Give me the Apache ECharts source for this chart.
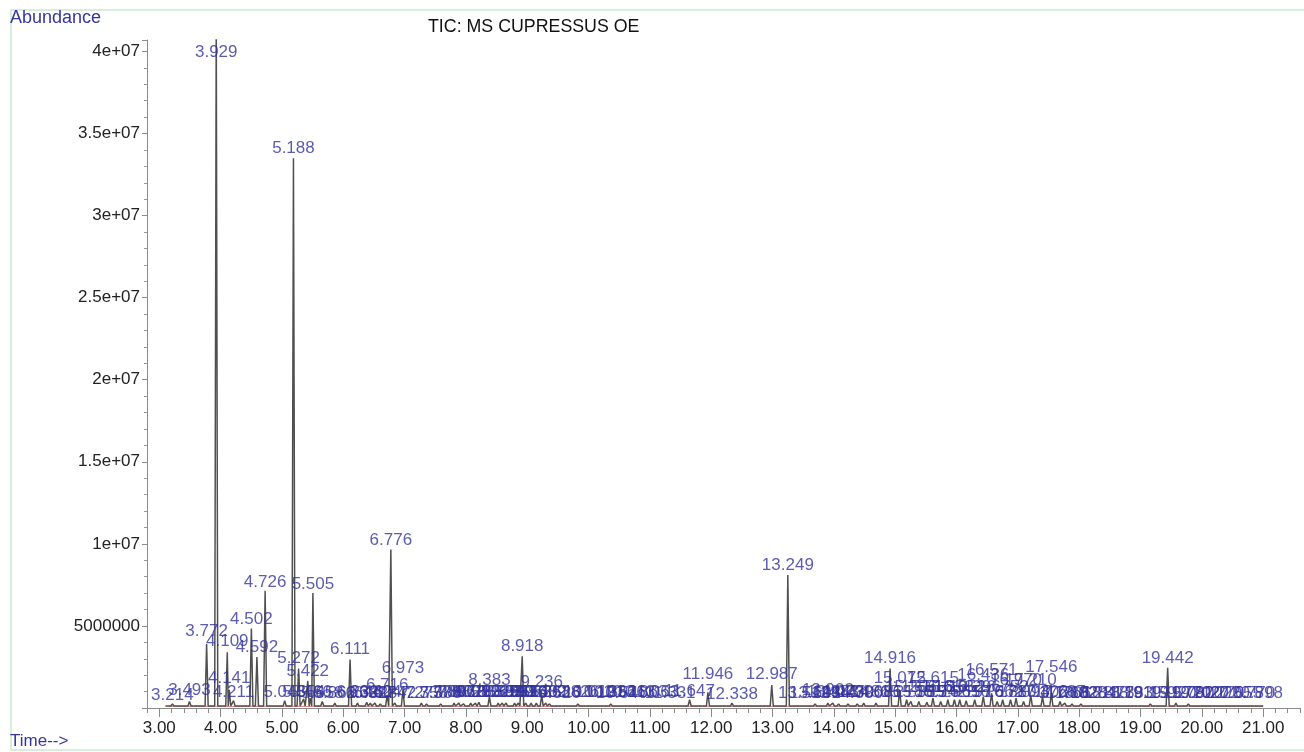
<!DOCTYPE html>
<html><head><meta charset="utf-8">
<script src="https://cdn.jsdelivr.net/npm/echarts@6/dist/echarts.min.js"></script>
<style>html,body{margin:0;padding:0;background:#fff}#c{width:1304px;height:752px}</style>
</head><body><div id="c"></div><script>
// Retention time (min) of each labelled peak
const peakTimes = [
 3.214,3.493,3.772,3.929,4.109,4.141,4.211,4.502,4.592,4.726,
 5.045,5.188,5.272,5.354,5.422,5.466,5.505,5.658,5.862,6.111,
 6.232,6.382,6.442,6.517,6.604,6.716,6.776,6.842,6.973,7.273,
 7.358,7.588,7.807,7.885,7.962,8.078,8.155,8.212,8.383,8.526,
 8.593,8.655,8.793,8.855,8.918,8.976,9.062,9.148,9.236,9.302,
 9.363,9.526,9.826,10.012,10.193,10.362,10.540,10.663,10.863,11.063,
 11.331,11.647,11.946,12.338,12.987,13.249,13.512,13.693,13.902,13.983,
 14.077,14.230,14.380,14.486,14.686,14.916,15.072,15.186,15.256,15.385,
 15.516,15.615,15.742,15.858,15.965,16.052,16.157,16.296,16.436,16.571,
 16.662,16.752,16.880,16.970,17.093,17.210,17.402,17.546,17.687,17.766,
 17.882,18.028,18.281,18.478,18.783,18.919,19.159,19.442,19.577,19.780,
 19.920,20.027,20.270,20.555,20.770,20.898
];
// Apex abundance of each peak (millions of counts)
const peakHeightsM = [
 0.25,0.40,3.9,42,3.4,1.1,0.45,4.85,3.1,7.15,
 0.45,33.5,2.4,0.55,1.65,0.6,7.0,0.4,0.3,2.95,
 0.3,0.35,0.3,0.3,0.25,0.8,9.65,0.3,1.1,0.3,
 0.25,0.25,0.3,0.3,0.25,0.3,0.3,0.35,0.7,0.3,
 0.3,0.3,0.3,0.3,3.15,0.3,0.3,0.3,0.75,0.3,
 0.25,0.2,0.25,0.2,0.2,0.25,0.2,0.2,0.2,0.2,
 0.2,0.5,0.95,0.3,1.4,8.1,0.2,0.25,0.3,0.3,
 0.25,0.25,0.25,0.3,0.3,2.4,1.1,0.5,0.4,0.4,
 0.35,0.6,0.4,0.5,0.5,0.5,0.45,0.5,0.7,0.9,
 0.4,0.5,0.5,0.6,0.4,0.8,0.7,0.9,0.4,0.3,
 0.25,0.25,0.2,0.2,0.2,0.2,0.25,2.45,0.3,0.25,
 0.2,0.2,0.2,0.2,0.2,0.2
];
// Abundance level where each peak's time label sits (millions)
const labelLevelsM = [
 0.2,0.5,4.07,39.4,3.46,1.2,0.35,4.85,3.09,7.1,
 0.35,33.5,2.42,0.35,1.63,0.35,6.98,0.3,0.3,2.97,
 0.35,0.3,0.35,0.3,0.35,0.8,9.66,0.3,1.81,0.3,
 0.3,0.3,0.35,0.4,0.35,0.4,0.35,0.35,1.1,0.35,
 0.4,0.35,0.35,0.4,3.15,0.35,0.4,0.35,1.0,0.35,
 0.35,0.3,0.35,0.35,0.35,0.35,0.3,0.35,0.35,0.35,
 0.3,0.43,1.45,0.23,1.45,8.1,0.3,0.3,0.5,0.35,
 0.35,0.35,0.3,0.35,0.35,2.42,1.2,0.35,0.7,0.35,
 0.7,1.2,0.35,0.7,0.35,0.7,0.35,0.7,1.4,1.71,
 0.35,0.7,0.35,1.1,0.35,1.1,0.35,1.92,0.35,0.3,
 0.3,0.3,0.3,0.3,0.3,0.3,0.3,2.46,0.3,0.3,
 0.3,0.3,0.3,0.3,0.3,0.3
];
const baselineTimes = [3.15, 21.0];
const baselineLevelsM = [0.1, 0.1];
const traceBaseM = 0.12;
const xTickValues = [3,4,5,6,7,8,9,10,11,12,13,14,15,16,17,18,19,20,21];
const xTickLabels = ['3.00','4.00','5.00','6.00','7.00','8.00','9.00','10.00','11.00','12.00','13.00','14.00','15.00','16.00','17.00','18.00','19.00','20.00','21.00'];
const yTickValues = [5e6,1e7,1.5e7,2e7,2.5e7,3e7,3.5e7,4e7];
const yTickLabels = ['5000000','1e+07','1.5e+07','2e+07','2.5e+07','3e+07','3.5e+07','4e+07'];

const W = 1304, H = 752;
const gL = 147, gR = 4, gT = 40, gB = 44;
const xMin = 2.8, xMax = 21.6, yMax = 4.07e7;
const ppm = (W - gL - gR) / (xMax - xMin);
const g1L = gL + (3 - xMin) * ppm;
const g1R = W - (gL + (21 - xMin) * ppm);

// trace built from the peak table
const trace = [];
for (let i = 0; i < peakTimes.length; i++) {
  const t = peakTimes[i];
  const prev = i > 0 ? t - peakTimes[i-1] : 1;
  const next = i < peakTimes.length - 1 ? peakTimes[i+1] - t : 1;
  const wl = Math.min(0.025, prev / 2), wr = Math.min(0.025, next / 2);
  trace.push([t - wl, traceBaseM * 1e6], [t, peakHeightsM[i] * 1e6], [t + wr, traceBaseM * 1e6]);
}
trace.unshift([xMin + 0.3, traceBaseM * 1e6]);
trace.push([21.0, traceBaseM * 1e6]);
const labels = peakTimes.map((t, i) => [t, labelLevelsM[i] * 1e6, t.toFixed(3)]);
const baseline = baselineTimes.map((t, i) => [t, baselineLevelsM[i] * 1e6]);

const font = '"Liberation Sans", Arial, sans-serif';
const chart = echarts.init(document.getElementById('c'), null, {renderer: 'canvas'});
chart.setOption({
  animation: false,
  backgroundColor: '#ffffff',
  grid: [
    {left: gL, right: gR, top: gT, bottom: gB},
    {left: g1L, right: g1R, top: gT, bottom: gB}
  ],
  xAxis: [
    {type: 'value', gridIndex: 0, min: xMin, max: xMax, interval: 0.2,
     axisLine: {show: true, lineStyle: {color: '#8a8a8a', width: 1}},
     axisTick: {show: true, length: 5, lineStyle: {color: '#8a8a8a'}},
     axisLabel: {show: false}, splitLine: {show: false}},
    {type: 'value', gridIndex: 1, min: 3, max: 21, interval: 1,
     axisLine: {show: false},
     axisTick: {show: true, length: 9, lineStyle: {color: '#8a8a8a'}},
     axisLabel: {show: true, margin: 12, fontSize: 17, fontFamily: font, color: '#222',
       formatter: v => { const k = xTickValues.indexOf(Math.round(v)); return k >= 0 && Math.abs(v - Math.round(v)) < 1e-6 ? xTickLabels[k] : ''; }},
     splitLine: {show: false}}
  ],
  yAxis: [
    {type: 'value', gridIndex: 0, min: 0, max: yMax, interval: 5e6,
     axisLine: {show: true, lineStyle: {color: '#8a8a8a', width: 1}},
     axisTick: {show: true, length: 5, lineStyle: {color: '#8a8a8a'}},
     minorTick: {show: true, splitNumber: 5, length: 3, lineStyle: {color: '#9a9a9a'}},
     axisLabel: {show: true, margin: 7, fontSize: 17, fontFamily: font, color: '#222',
       formatter: v => { const k = yTickValues.indexOf(v); return k >= 0 ? yTickLabels[k] : ''; }},
     splitLine: {show: false}},
    {type: 'value', gridIndex: 1, min: 0, max: yMax, show: false}
  ],
  series: [
    {type: 'line', name: 'baseline', xAxisIndex: 0, yAxisIndex: 0, data: baseline,
     showSymbol: false, symbol: 'none', lineStyle: {color: '#dc7a7a', width: 1}, z: 2, silent: true},
    {type: 'line', name: 'TIC', xAxisIndex: 0, yAxisIndex: 0, data: trace,
     showSymbol: false, symbol: 'none', sampling: null, lineStyle: {color: '#505050', width: 1.5}, z: 3, silent: true},
    {type: 'scatter', name: 'labels', xAxisIndex: 0, yAxisIndex: 0, data: labels,
     symbolSize: 0, z: 4, silent: true,
     label: {show: true, position: 'top', distance: 1, fontSize: 17, fontFamily: font, color: '#32329e',
       formatter: p => p.value[2]}}
  ],
  graphic: [
    {type: 'rect', shape: {x: 11, y: 10, width: 1300, height: 740}, style: {fill: 'none', stroke: '#cde8d4', lineWidth: 1.5}, silent: true},
    {type: 'text', left: 10, top: 9, style: {text: 'Abundance', fontSize: 18, fontFamily: font, fill: '#35359f'}},
    {type: 'text', left: 10, top: 733, style: {text: 'Time-->', fontSize: 17, fontFamily: font, fill: '#35359f'}},
    {type: 'text', left: 428, top: 18, style: {text: 'TIC: MS CUPRESSUS OE', fontSize: 17.8, fontFamily: font, fill: '#111'}}
  ]
});
</script></body></html>
